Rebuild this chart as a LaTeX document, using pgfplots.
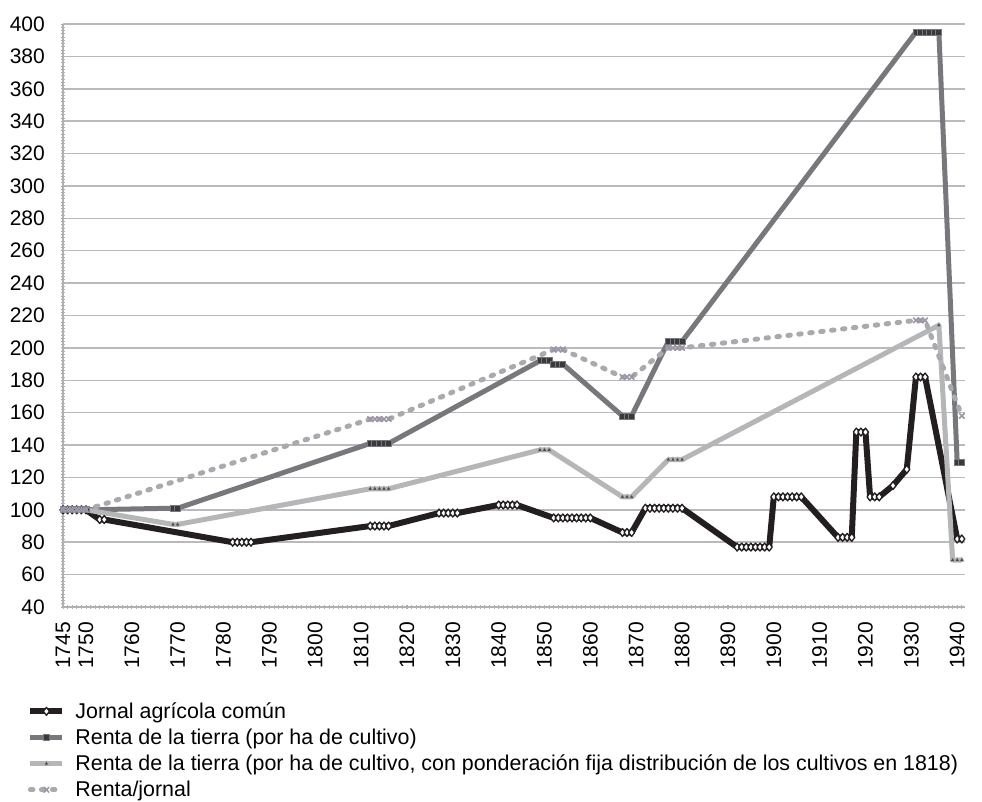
\documentclass[border=0pt]{standalone}
\usepackage{fontspec}
\setmainfont{Liberation Sans}
\usepackage{pgfplots}
\pgfplotsset{compat=1.18}
\definecolor{cblack}{HTML}{231F20}
\definecolor{cgray}{HTML}{77787B}
\definecolor{cgraymk}{HTML}{3A3A3C}
\definecolor{clight}{HTML}{B5B6B8}
\definecolor{clightmk}{HTML}{4A4A4C}
\definecolor{cdot}{HTML}{A9AAAD}
\definecolor{cdotmk}{HTML}{9C96A8}
\definecolor{cgrid}{HTML}{B9B9BE}
\definecolor{caxis}{HTML}{B0B0B4}
\begin{document}
\begin{tikzpicture}
\useasboundingbox (-63pt,-195pt) rectangle (919pt,607pt);
\begin{axis}[
  scale only axis, width=902pt, height=583pt,
  xmin=1745, xmax=1941.7, ymin=40, ymax=400,
  axis x line*=bottom, axis y line*=left,
  axis line style={caxis, line width=1.5pt, -},
  ytick={40,60,...,400},
  xtick={1745,1750,1760,1770,1780,1790,1800,1810,1820,1830,1840,1850,1860,1870,1880,1890,1900,1910,1920,1930,1940},
  minor xtick={1745,...,1941},
  minor y tick num=9,
  ymajorgrids, major grid style={cgrid, line width=1.5pt},
  tick align=center,
  tick style={caxis, line width=0.8pt},
  major tick length=4pt, minor tick length=4pt,
  /pgf/number format/assume math mode=true,
  /pgf/number format/1000 sep={},
  ticklabel style={font=\fontsize{21}{23}\selectfont, text=black},
  xticklabel style={rotate=90, anchor=east, inner xsep=13pt},
  yticklabel style={inner xsep=16pt},
  clip=false,
  legend style={at={(axis description cs:-0.043,-0.157)}, anchor=north west, draw=none, fill=none,
    font=\fontsize{21.4}{23}\selectfont, row sep=5pt, column sep=8pt, cells={anchor=west}},
  legend cell align=left,
  legend image code/.code={\draw[mark repeat=2, mark phase=2, #1] plot coordinates {(0pt,0pt) (16pt,0pt) (32pt,0pt)};},
]
% Jornal agricola comun
\addplot[cblack, line width=6pt, line join=round, mark=diamond*, mark size=4pt,
  mark options={fill=white, draw=cblack, line width=1.3pt, solid}] coordinates {
 (1745,100) (1746,100) (1747,100) (1748,100) (1749,100) (1750,100)
 (1753,94) (1754,94)
 (1782,80) (1783,80) (1784,80) (1785,80) (1786,80)
 (1812,90) (1813,90) (1814,90) (1815,90) (1816,90)
 (1827,98) (1828,98) (1829,98) (1830,98) (1831,98)
 (1840,103) (1841,103) (1842,103) (1843,103) (1844,103)
 (1852,95) (1853,95) (1854,95) (1855,95) (1856,95) (1857,95) (1858,95) (1859,95) (1860,95)
 (1867,86) (1868,86) (1869,86)
 (1872,101) (1873,101) (1874,101) (1875,101) (1876,101) (1877,101) (1878,101) (1879,101) (1880,101)
 (1892,77) (1893,77) (1894,77) (1895,77) (1896,77) (1897,77) (1898,77) (1899,77)
 (1900,108) (1901,108) (1902,108) (1903,108) (1904,108) (1905,108) (1906,108)
 (1914,83) (1915,83) (1916,83) (1917,83)
 (1918,148) (1919,148) (1920,148)
 (1921,108) (1922,108) (1923,108)
 (1926,115) (1929,125)
 (1931,182) (1932,182) (1933,182)
 (1940,82) (1941,82)
};
\addlegendentry{Jornal agrícola común}
% Renta de la tierra
\addplot[cgray, line width=5pt, line join=round, mark=square*, mark size=3pt,
  mark options={fill=cgraymk, draw=cgray, line width=0.8pt, solid}] coordinates {
 (1745,100) (1746,100) (1747,100) (1748,100) (1749,100) (1750,100)
 (1769,101) (1770,101)
 (1812,141) (1813,141) (1814,141) (1815,141) (1816,141)
 (1849,192) (1850,192) (1851,192)
 (1852,190) (1853,190) (1854,190)
 (1867,158) (1868,158) (1869,158)
 (1877,204) (1878,204) (1879,204) (1880,204)
 (1931,395) (1932,395) (1933,395) (1934,395) (1935,395) (1936,395)
 (1940,129) (1941,129)
};
\addlegendentry{Renta de la tierra (por ha de cultivo)}
% Renta ponderacion fija
\addplot[clight, line width=5pt, line join=round, mark=triangle*, mark size=2.8pt,
  mark options={fill=clightmk, draw=clight, line width=0.6pt, solid}] coordinates {
 (1745,100) (1746,100) (1747,100) (1748,100) (1749,100) (1750,100)
 (1769,91) (1770,91)
 (1812,113) (1813,113) (1814,113) (1815,113) (1816,113)
 (1849,137) (1850,137) (1851,137)
 (1867,108) (1868,108) (1869,108)
 (1877,131) (1878,131) (1879,131) (1880,131)
 (1936,214)
 (1939,69) (1940,69) (1941,69)
};
\addlegendentry{Renta de la tierra (por ha de cultivo, con ponderación fija distribución de los cultivos en 1818)}
% Renta/jornal
\addplot[cdot, line width=5pt, line cap=round, dash pattern=on 2.5pt off 8.5pt, mark=x, mark size=3.5pt,
  mark options={draw=cdotmk, line width=1.6pt, solid}] coordinates {
 (1745,100) (1746,100) (1747,100) (1748,100) (1749,100) (1750,100)
 (1812,156) (1813,156) (1814,156) (1815,156) (1816,156)
 (1852,199) (1853,199) (1854,199)
 (1867,182) (1868,182) (1869,182)
 (1877,200) (1878,200) (1879,200) (1880,200)
 (1931,217) (1932,217) (1933,217)
 (1941,158)
};
\addlegendentry{Renta/jornal}
\end{axis}
\end{tikzpicture}
\end{document}
